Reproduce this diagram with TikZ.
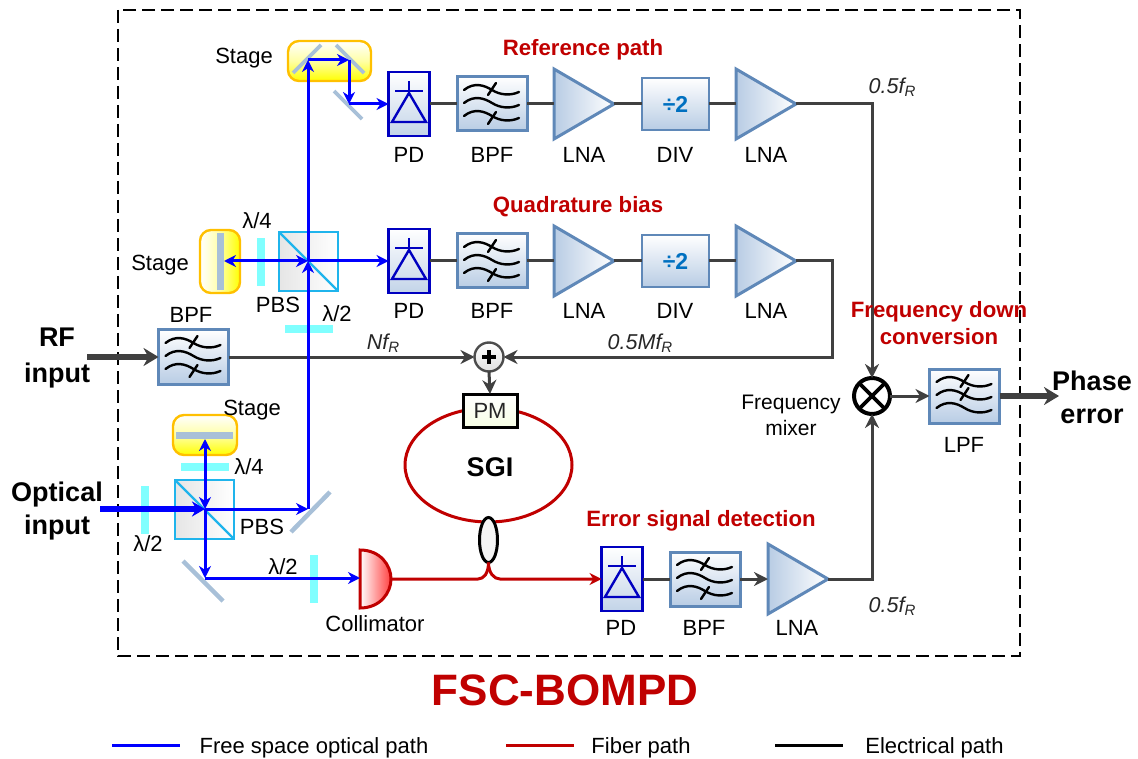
\documentclass[tikz,border=0pt]{standalone}
\usepackage{fontspec}
\setmainfont{Liberation Sans}
\usetikzlibrary{arrows.meta,shapes.geometric,calc}
\definecolor{wire}{HTML}{404040}
\definecolor{redp}{HTML}{C00000}
\definecolor{beam}{HTML}{0000FF}
\definecolor{boxline}{HTML}{5F88B8}
\definecolor{boxfill}{HTML}{B8CCE4}
\definecolor{mirrorc}{HTML}{A8C0D8}
\definecolor{platec}{HTML}{80FFFF}
\definecolor{stagec}{HTML}{FFC000}
\definecolor{cubec}{HTML}{1FB4EC}
\definecolor{pdc}{HTML}{0000C0}
\tikzset{
  every node/.style={inner sep=0pt,outer sep=0pt},
  txt/.style={font=\fontsize{22}{24}\selectfont,text=black,anchor=center},
  itxt/.style={font=\fontsize{21.5}{24}\selectfont\itshape,text=black!85,anchor=center},
  title/.style={font=\fontsize{22.2}{27}\selectfont\bfseries,text=redp,anchor=center},
  big/.style={font=\fontsize{27}{33}\selectfont\bfseries,text=black,anchor=center},
  conn/.style={draw=wire,line width=3pt},
  connarrow/.style={conn,-{Stealth[length=14pt,width=14pt]}},
  thickarrow/.style={draw=wire,line width=5.5pt,-{Stealth[length=15pt,width=18pt]}},
  ray/.style={draw=beam,line width=3pt},
  rayarrow/.style={ray,-{Stealth[length=12pt,width=12pt]}},
  raydouble/.style={ray,{Stealth[length=12pt,width=12pt]}-{Stealth[length=12pt,width=12pt]}},
  fiber/.style={draw=redp,line width=3pt},
  mirror/.style={draw=mirrorc,line width=3.6pt},
  mirrorrect/.style={fill=mirrorc},
  plateV/.style={fill=platec,minimum width=8pt,minimum height=48pt},
  plateH/.style={fill=platec,minimum width=48pt,minimum height=8pt},
  stagebox/.style={draw=stagec,line width=2.4pt,rounded corners=11pt},
  stagev/.style={stagebox,top color=white,bottom color=yellow,middle color=yellow!35},
  stageh/.style={stagebox,left color=white,right color=yellow,middle color=yellow!35},
  cubebox/.style={draw=cubec,line width=2.2pt,left color=black!10,right color=white,minimum width=59pt,minimum height=59pt},
  filtbox/.style={draw=boxline,line width=3pt,top color=white,bottom color=boxfill,minimum width=70pt,minimum height=54pt},
  divbox/.style={draw=boxline,line width=1.8pt,top color=white,bottom color=boxfill,minimum width=67pt,minimum height=52pt,font=\fontsize{23}{24}\selectfont\bfseries,text={rgb,255:red,0;green,112;blue,192}},
  pdbox/.style={draw=pdc,line width=2.6pt,top color=white,bottom color=boxfill!85,minimum width=41pt,minimum height=64pt},
  lnabox/.style={isosceles triangle,isosceles triangle stretches,shape border rotate=0,draw=boxline,line width=3pt,left color=boxfill,right color=white,minimum width=70pt,minimum height=60pt,anchor=west},
  glyph/.style={draw=black,line width=2.4pt,line cap=round},
  legendline/.style={line width=3pt},
}
\newcommand{\wavepiece}[1]{\draw[glyph] (-28,#1) .. controls (-18,#1-8) and (-8,#1-5) .. (0,#1) .. controls (8,#1+5) and (18,#1+6) .. (27,#1+2);}
\newcommand{\tickpiece}[1]{\draw[glyph] (4,#1-6) -- (-4,#1+6);}
\newcommand{\bandfilter}[3]{\node[filtbox] (#1) at (#2,#3) {};
  \begin{scope}[shift={(#1.center)}]\wavepiece{-14}\wavepiece{-1}\wavepiece{12}\tickpiece{-15}\tickpiece{14}\end{scope}}
\newcommand{\lowfilter}[3]{\node[filtbox] (#1) at (#2,#3) {};
  \begin{scope}[shift={(#1.center)}]\wavepiece{-14}\wavepiece{-1}\wavepiece{12}\tickpiece{-15}\tickpiece{-2}\end{scope}}
\newcommand{\photodiode}[3]{\node[pdbox] (#1) at (#2,#3) {};
  \begin{scope}[shift={(#1.center)},draw=pdc]
  \draw[draw=pdc,line width=2.4pt,line join=miter] (0,-11) -- (17,18) -- (-17,18) -- cycle;
  \draw[draw=pdc,line width=2.4pt] (-14,-13) -- (14,-13) (0,-23) -- (0,-11);
  \end{scope}}
\begin{document}
\begin{tikzpicture}[x=1pt,y=-1pt]
\useasboundingbox (0,0) rectangle (1138,759);
% outer frame
\draw[black,line width=2pt,dash pattern=on 13pt off 6pt] (118,10) rectangle (1020,656);

% loop and coupler
\node[ellipse,draw=redp,line width=3pt,minimum width=167pt,minimum height=114pt] (sgi) at (488.5,465) {};
\node[big] (tsgi) at (490,467) {SGI};
\node[draw=black,line width=3pt,top color=white,bottom color=green!30!yellow!10,minimum width=54pt,minimum height=33pt,font=\fontsize{22}{24}\selectfont,text=black!85] (pm) at (490,410.5) {PM};
\node[ellipse,draw=black,line width=3pt,fill=black!4,minimum width=18pt,minimum height=45pt] (cpl) at (488.5,540) {};

% electronics
\photodiode{pda}{409}{104}
\bandfilter{bpfa}{492}{104}
\node[lnabox] (lnaa) at (554,104) {};
\node[divbox] (diva) at (675.5,104) {÷2};
\node[lnabox] (lnab) at (736,104) {};

\photodiode{pdb}{409}{261}
\bandfilter{bpfb}{492}{261}
\node[lnabox] (lnac) at (554,261) {};
\node[divbox] (divb) at (675.5,261) {÷2};
\node[lnabox] (lnad) at (736,261) {};

\photodiode{pdc}{622}{579}
\bandfilter{bpfc}{705}{579}
\node[lnabox] (lnae) at (768,579) {};

\bandfilter{bpfrf}{193.5}{357}
\lowfilter{lpf}{964.5}{396}

\node[circle,draw=black!70,line width=2.4pt,top color=white,bottom color=black!12,minimum size=29pt] (plus) at (489,357) {};
\draw[black,line width=3.6pt] ($(plus.center)+(-7,0)$) -- ($(plus.center)+(7,0)$) ($(plus.center)+(0,-7)$) -- ($(plus.center)+(0,7)$);
\node[circle,draw=black,line width=4pt,fill=white,minimum size=36pt] (mix) at (872,396) {};
\draw[black,line width=3.6pt] (mix.north west) -- (mix.south east) (mix.north east) -- (mix.south west);

% electrical connectors
\draw[conn] (pda) -- (bpfa);
\draw[conn] (bpfa) -- (lnaa.west);
\draw[conn] (lnaa.east) -- (diva);
\draw[conn] (diva) -- (lnab.west);
\draw[connarrow] (lnab.east) -| (mix.north);
\draw[conn] (pdb) -- (bpfb);
\draw[conn] (bpfb) -- (lnac.west);
\draw[conn] (lnac.east) -- (divb);
\draw[conn] (divb) -- (lnad.west);
\coordinate (turn) at (832,357);
\draw[connarrow] (lnad.east) -| (turn) -- (plus.east);
\draw[connarrow] (bpfrf) -- (plus.west);
\draw[connarrow] (plus.south) -- (pm.north);
\draw[conn] (pdc) -- (bpfc);
\draw[connarrow] (bpfc) -- (lnae.west);
\draw[connarrow] (lnae.east) -| (mix.south);
\draw[connarrow] (mix.east) -- (lpf.west);
\coordinate (rfstart) at (87,357);
\draw[thickarrow] (rfstart) -- (bpfrf.west);
\coordinate (phaseend) at (1059,396);
\draw[thickarrow] (lpf.east) -- (phaseend);

% stages
\draw[stagev] (288,41) rectangle (371,81);
\draw[stageh] (200,230) rectangle (240,293);
\draw[stagev] (173,415) rectangle (237,455);
\draw[mirror] (293,73) -- (321,45);
\draw[mirror] (336,45) -- (364,73);
\draw[mirror] (334,91) -- (362,119);
\fill[mirrorrect] (217,233) rectangle (224,290);
\fill[mirrorrect] (176,432) rectangle (233,439);
\draw[mirror,line width=4.5pt] (291,532) -- (330,492);
\draw[mirror,line width=4.5pt] (183,561) -- (223,601);

% plates
\node[plateV] (qwa) at (261,262) {};
\node[plateH] (hwa) at (309,329) {};
\node[plateH] (qwb) at (205,467) {};
\node[plateV] (hwb) at (145,510) {};
\node[plateV] (hwc) at (314,579) {};

% cubes
\node[cubebox] (pbsa) at (308.5,261.5) {};
\draw[draw=cubec,line width=2.2pt] (pbsa.north west) -- (pbsa.south east);
\node[cubebox] (pbsb) at (204.5,509.5) {};
\draw[draw=cubec,line width=2.2pt] (pbsb.north west) -- (pbsb.south east);

% collimator
\draw[fiber,left color=white,right color=red!75] (360,550) .. controls (380,550) and (391,565) .. (391,579) .. controls (391,593) and (380,608) .. (360,608) -- cycle;
\coordinate (coll) at (391,579);
\coordinate (collin) at (360,578);
\draw[fiber] (coll) -- (478,579) .. controls (484,579) and (488.5,573) .. (cpl.south);
\draw[fiber,-{Stealth[length=12pt,width=12pt]}] (cpl.south) .. controls (488.5,573) and (494,579) .. (500,579) -- (pdc.west);

% free-space rays
\coordinate (ja) at (308,261);
\coordinate (jb) at (205,509);
\coordinate (ma) at (308,60);
\coordinate (mb) at (349,60);
\coordinate (mc) at (349,104);
\coordinate (md) at (308,509);
\coordinate (me) at (205,578);
\coordinate (sa) at (224,261);
\coordinate (sb) at (205,439);
\coordinate (optstart) at (100,509);
\draw[rayarrow] (md) -- (ja);
\draw[rayarrow] (ja) -- (ma);
\draw[rayarrow] (ma) -- (mb);
\draw[rayarrow] (mb) -- (mc);
\draw[rayarrow] (mc) -- (pda.west);
\draw[raydouble] (sa) -- (ja);
\draw[rayarrow] (ja) -- (pdb.west);
\draw[raydouble] (sb) -- (jb);
\draw[rayarrow] (jb) -- (md);
\draw[rayarrow] (jb) -- (me);
\draw[rayarrow] (me) -- (collin);
\draw[beam,line width=5.5pt,-{Stealth[length=13pt,width=15pt]}] (optstart) -- (jb);

% labels
\node[txt] (tsa) at (244,58) {Stage};
\node[txt] (tsb) at (160,265) {Stage};
\node[txt] (tsc) at (252,410) {Stage};
\node[txt] (tqa) at (257,221) {λ/4};
\node[txt] (tpa) at (278,305) {PBS};
\node[txt] (tha) at (337,314) {λ/2};
\node[txt] (tbr) at (191,315) {BPF};
\node[txt] (tqb) at (249,467) {λ/4};
\node[txt] (tpb) at (262,527) {PBS};
\node[txt] (thb) at (148,544) {λ/2};
\node[txt] (thc) at (283,567) {λ/2};
\node[txt] (tca) at (375,624) {Collimator};
\node[txt] (t1) at (409,155) {PD};
\node[txt] (t2) at (492,155) {BPF};
\node[txt] (t3) at (584,155) {LNA};
\node[txt] (t4) at (675,155) {DIV};
\node[txt] (t5) at (766,155) {LNA};
\node[txt] (t6) at (409,311) {PD};
\node[txt] (t7) at (492,311) {BPF};
\node[txt] (t8) at (584,311) {LNA};
\node[txt] (t9) at (675,311) {DIV};
\node[txt] (t10) at (766,311) {LNA};
\node[txt] (t11) at (621,628) {PD};
\node[txt] (t12) at (704,628) {BPF};
\node[txt] (t13) at (797,628) {LNA};
\node[txt] (t14) at (964,445) {LPF};
\node[txt,align=center,font=\fontsize{21}{26}\selectfont] (tmix) at (791,415) {Frequency\\mixer};
\node[itxt] (fa) at (892,87) {0.5\textit{f}\raisebox{-3pt}{\fontsize{15}{15}\selectfont R}};
\node[itxt] (fb) at (892,606) {0.5\textit{f}\raisebox{-3pt}{\fontsize{15}{15}\selectfont R}};
\node[itxt] (fc) at (383,343) {Nf\raisebox{-3pt}{\fontsize{15}{15}\selectfont R}};
\node[itxt] (fd) at (640,343) {0.5Mf\raisebox{-3pt}{\fontsize{15}{15}\selectfont R}};
\node[title] (ha) at (583,50) {Reference path};
\node[title] (hb) at (578,207) {Quadrature bias};
\node[title,align=center] (hc) at (939,323) {Frequency down\\conversion};
\node[title] (hd) at (701,521) {Error signal detection};
\node[big,align=center,font=\fontsize{27}{36}\selectfont\bfseries] (ia) at (57,358) {RF\\input};
\node[big,align=center] (ib) at (57,511) {Optical\\input};
\node[big,align=center] (oa) at (1092,397) {Phase\\error};
\node[font=\fontsize{44}{48}\selectfont\bfseries,text=redp] (fsc) at (565,690) {FSC-BOMPD};

% legend
\coordinate (la) at (112,745); \coordinate (lb) at (180,745);
\coordinate (lc) at (506,745); \coordinate (ld) at (574,745);
\coordinate (le) at (775,745); \coordinate (lf) at (843,745);
\draw[legendline,draw=beam] (la) -- (lb);
\draw[legendline,draw=redp] (lc) -- (ld);
\draw[legendline,draw=black] (le) -- (lf);
\node[txt] (lga) at (314,748) {Free space optical path};
\node[txt] (lgb) at (641,748) {Fiber path};
\node[txt] (lgc) at (934.5,748) {Electrical path};
\end{tikzpicture}
\end{document}
